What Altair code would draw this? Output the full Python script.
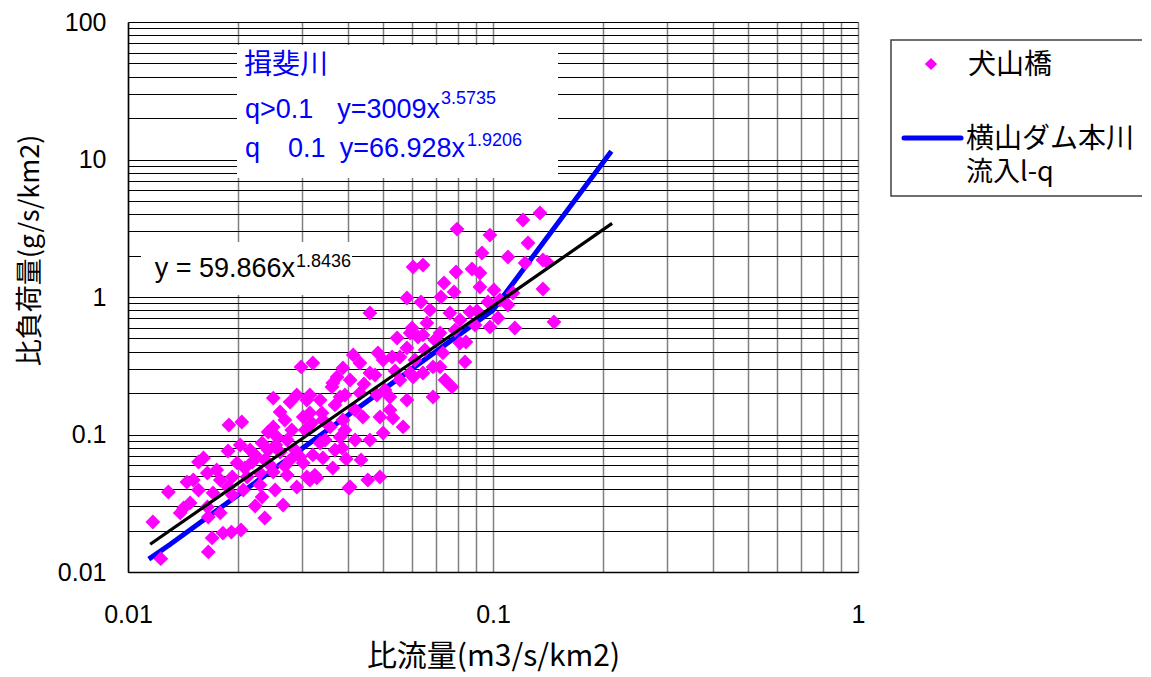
import altair as alt
import pandas as pd

# ---- scatter data: 犬山橋 (specific discharge q, specific load L) ----
flow_q = [
    0.0117, 0.0123, 0.0129, 0.0139, 0.0142, 0.0145, 0.0148, 0.0151, 0.0156, 0.0156,
    0.0161, 0.0165, 0.0165, 0.0166, 0.0166, 0.0170, 0.0171, 0.0175, 0.0179, 0.0179,
    0.0182, 0.0188, 0.0188, 0.0189, 0.0192, 0.0193, 0.0193, 0.0199, 0.0204, 0.0205,
    0.0207, 0.0209, 0.0212, 0.0216, 0.0219, 0.0223, 0.0230, 0.0230, 0.0233, 0.0233,
    0.0237, 0.0242, 0.0242, 0.0250, 0.0250, 0.0250, 0.0253, 0.0254, 0.0256, 0.0261,
    0.0261, 0.0266, 0.0269, 0.0273, 0.0278, 0.0278, 0.0281, 0.0290, 0.0290, 0.0296,
    0.0298, 0.0302, 0.0302, 0.0306, 0.0309, 0.0309, 0.0315, 0.0315, 0.0315, 0.0319,
    0.0321, 0.0321, 0.0325, 0.0329, 0.0336, 0.0336, 0.0340, 0.0342, 0.0342, 0.0358,
    0.0362, 0.0364, 0.0364, 0.0374, 0.0381, 0.0381, 0.0386, 0.0388, 0.0388, 0.0406,
    0.0406, 0.0414, 0.0432, 0.0432, 0.0435, 0.0440, 0.0454, 0.0460, 0.0460, 0.0460,
    0.0481, 0.0484, 0.0490, 0.0490, 0.0500, 0.0500, 0.0522, 0.0522, 0.0529, 0.0532,
    0.0546, 0.0556, 0.0567, 0.0581, 0.0581, 0.0581, 0.0593, 0.0593, 0.0600, 0.0604,
    0.0604, 0.0623, 0.0635, 0.0643, 0.0643, 0.0643, 0.0659, 0.0672, 0.0685, 0.0685,
    0.0716, 0.0716, 0.0720, 0.0729, 0.0734, 0.0739, 0.0762, 0.0772, 0.0782, 0.0792,
    0.0797, 0.0812, 0.0838, 0.0865, 0.0876, 0.0921, 0.0921, 0.0933, 0.0969, 0.0981,
    0.0981, 0.1006, 0.1032, 0.1099, 0.1099, 0.1148, 0.1134, 0.1208, 0.1224, 0.1247,
    0.1345, 0.1370, 0.1406, 0.1370, 0.1469, 0.1045, 0.0843, 0.0904, 0.0223, 0.0237,
    0.0273, 0.0287, 0.0369, 0.0393, 0.0419, 0.0443, 0.0475, 0.0506, 0.0539, 0.0556,
    0.0611, 0.0651, 0.0693, 0.0787, 0.0812, 0.0893, 0.0347, 0.0369, 0.0393, 0.0419,
    0.0269, 0.0245, 0.0203, 0.0396, 0.0403,
]
load_L = [
    0.0231, 0.0125, 0.0382, 0.0269, 0.0292, 0.0451, 0.0318, 0.0467, 0.0395, 0.0631,
    0.0675, 0.0297, 0.0525, 0.0140, 0.0251, 0.0177, 0.0376, 0.0552, 0.0467, 0.0269,
    0.0192, 0.0759, 0.0415, 0.1173, 0.0195, 0.0491, 0.0363, 0.0621, 0.0202, 0.1233,
    0.0395, 0.0571, 0.0491, 0.0771, 0.0631, 0.0302, 0.0525, 0.0430, 0.0867, 0.0351,
    0.0247, 0.0771, 0.1043, 0.184, 0.1135, 0.0533, 0.0395, 0.0839, 0.0959, 0.146,
    0.0746, 0.0307, 0.0590, 0.0507, 0.172, 0.0653, 0.1078, 0.1937, 0.0415, 0.0686,
    0.310, 0.134, 0.0621, 0.1078, 0.0491, 0.178, 0.1937, 0.1433, 0.0467, 0.1213,
    0.331, 0.0710, 0.0507, 0.0483, 0.178, 0.0867, 0.1433, 0.1275, 0.0675, 0.1135,
    0.222, 0.237, 0.0571, 0.262, 0.1874, 0.0959, 0.0798, 0.305, 0.1275, 0.249,
    0.0415, 0.379, 0.331, 0.2004, 0.0653, 0.134, 0.0467, 0.765, 0.280, 0.0912,
    0.1937, 0.392, 0.134, 0.0491, 0.348, 0.1026, 0.1874, 0.151, 0.366, 0.1318,
    0.503, 0.366, 0.1135, 0.426, 0.178, 0.983, 0.547, 0.280, 0.595, 1.653,
    0.262, 0.512, 0.920, 1.708, 0.530, 0.280, 0.647, 0.804, 0.310, 0.1874,
    0.547, 0.310, 1.000, 0.392, 1.264, 0.249, 0.765, 0.222, 1.087, 1.520,
    3.12, 0.463, 0.337, 0.778, 1.598, 1.495, 1.182, 2.09, 0.920, 2.82,
    0.605, 1.124, 0.7035, 1.954, 0.875, 0.595, 1.069, 3.63, 1.767, 2.47,
    4.08, 1.858, 1.797, 1.143, 0.658, 0.951, 0.471, 0.791, 0.0710, 0.0653,
    0.0912, 0.0771, 0.164, 0.1937, 0.151, 0.233, 0.271, 0.211, 0.290, 0.249,
    0.348, 0.412, 0.487, 0.575, 0.681, 0.626, 0.0912, 0.0771, 0.1078, 0.0912,
    0.1275, 0.0600, 0.0839, 0.0664, 0.0408,
]

# ---- 横山ダム本川流入 L-Q (blue, piecewise power law as read) ----
blue_q = [0.0114, 0.0130, 0.1000, 0.2110]
blue_L = [0.0124, 0.0158, 0.803, 11.5]

# ---- overall regression y = 59.866x^1.8436 (black) ----
black_q = [0.0115, 0.2120]
black_L = [0.0159, 3.43]

# ---- axis grid values / labels ----
x_grid = [m * d for d in (0.01, 0.1) for m in range(1, 10)] + [1.0]
y_grid = [m * d for d in (0.01, 0.1, 1, 10) for m in range(1, 10)] + [100.0]

FONT = "Liberation Sans, Noto Sans CJK JP"
JFONT = "Noto Sans CJK JP"
BLUE = "#0000ff"
MAGENTA = "#ff00ff"

pts = pd.DataFrame({"q": flow_q, "L": load_L})
blue_df = pd.DataFrame({"q": blue_q, "L": blue_L})
black_df = pd.DataFrame({"q": black_q, "L": black_L})

label_expr = ("abs(log(datum.value)/LN10 - round(log(datum.value)/LN10)) < 0.001"
              " ? format(datum.value, '~g') : ''")

x_enc = alt.X(
    "q:Q",
    scale=alt.Scale(type="log", domain=[0.01, 1], nice=False),
    axis=alt.Axis(
        values=x_grid, labelExpr=label_expr, labelOverlap=False, labelFlush=False,
        grid=True, gridColor="#808080", gridWidth=1.5,
        ticks=False, domainColor="#000000", domainWidth=1.5,
        labelFontSize=25, labelPadding=30, labelFont=FONT, labelColor="#000000",
        title="比流量(m3/s/km2)", titleFont=JFONT, titleFontSize=30,
        titleFontWeight="normal", titleColor="#000000",
        titleX=365, titleY=84, titleBaseline="middle", titleAlign="center",
    ),
)
y_enc = alt.Y(
    "L:Q",
    scale=alt.Scale(type="log", domain=[0.01, 100], nice=False),
    axis=alt.Axis(
        values=y_grid, labelExpr=label_expr, labelOverlap=False, labelFlush=False,
        grid=True, gridColor="#000000", gridWidth=1,
        ticks=False, domainColor="#000000", domainWidth=1.5,
        labelFontSize=25, labelPadding=22, labelFont=FONT, labelColor="#000000",
        title="比負荷量(g/s/km2)", titleFont=JFONT, titleFontSize=27,
        titleFontWeight="normal", titleColor="#000000",
        titleX=-98, titleY=228, titleBaseline="middle", titleAlign="center",
        titleAngle=270,
    ),
)

one = alt.Data(values=[{}])


def box(x1, x2, y1, y2, stroke=None):
    kw = dict(fill="white")
    if stroke:
        kw.update(stroke=stroke, strokeWidth=1.5)
    return alt.Chart(one).mark_rect(**kw).encode(
        x=alt.value(x1), x2=alt.value(x2), y=alt.value(y1), y2=alt.value(y2))


def txt(s, x, y, size, color="#000000", align="left", baseline="alphabetic", font=FONT):
    return alt.Chart(one).mark_text(
        text=s, align=align, baseline=baseline, font=font,
        fontSize=size, color=color).encode(x=alt.value(x), y=alt.value(y))


blue_line = alt.Chart(blue_df).mark_line(color=BLUE, strokeWidth=5).encode(x=x_enc, y=y_enc)
points = alt.Chart(pts).mark_point(
    shape="diamond", filled=True, size=220, color=MAGENTA, opacity=1
).encode(x=x_enc, y=y_enc)
black_line = alt.Chart(black_df).mark_line(color="#000000", strokeWidth=3.2).encode(x=x_enc, y=y_enc)

annot = [
    box(109, 430, 23, 156),
    txt("揖斐川", 116, 44, 28, BLUE, baseline="middle", font=JFONT),
    txt("q>0.1", 117, 96, 27, BLUE),
    txt("y=3009x", 312, 96, 27, BLUE, align="right"),
    txt("3.5735", 313, 82, 18, BLUE),
    txt("q", 117, 135, 27, BLUE),
    txt("0.1", 160, 135, 27, BLUE),
    txt("y=66.928x", 337, 135, 27, BLUE, align="right"),
    txt("1.9206", 339, 124, 18, BLUE),
    box(13, 224, 220, 273),
    txt("y = 59.866x", 167, 255, 27, align="right"),
    txt("1.8436", 168, 245, 18),
    # legend
    box(763, 1060, 18, 174, stroke="#404040"),
    alt.Chart(one).mark_point(shape="diamond", filled=True, size=150, color=MAGENTA, opacity=1)
    .encode(x=alt.value(803), y=alt.value(42)),
    txt("犬山橋", 840, 44, 28, baseline="middle", font=JFONT),
    alt.Chart(one).mark_rule(color=BLUE, strokeWidth=5, strokeCap="round")
    .encode(x=alt.value(776), x2=alt.value(833), y=alt.value(116)),
    txt("横山ダム本川", 838, 118, 28, baseline="middle", font=JFONT),
    txt("流入l-q", 838, 151, 27, baseline="middle", font=JFONT),
]

chart = alt.layer(
    blue_line, points, black_line, *annot
).properties(
    width=730, height=550,
    autosize=alt.AutoSizeParams(type="none"),
    padding={"left": 120, "top": 14, "right": 284, "bottom": 105},
).configure_view(strokeWidth=0).configure(background="white")

chart.save("out.html", embed_options={"renderer": "svg", "actions": False})
